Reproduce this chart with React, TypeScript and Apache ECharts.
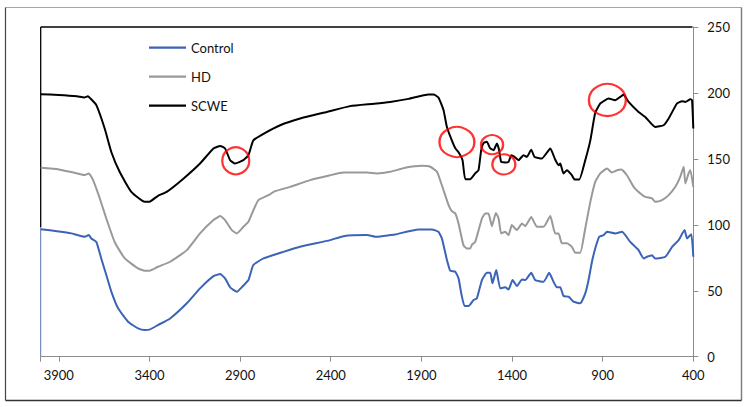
import React, { useEffect, useRef } from "react";
import * as echarts from "echarts";

// Wavenumber (cm-1) / value pairs
const scweWn = [4000, 3900, 3800, 3760, 3740, 3720, 3693, 3647, 3610, 3564, 3500, 3426, 3400, 3353, 3305, 3213, 3121, 3047, 3010, 2983, 2955, 2928, 2882, 2854, 2827, 2771, 2679, 2569, 2422, 2293, 2160, 2072, 1971, 1861, 1833, 1806, 1778, 1759, 1732, 1713, 1695, 1673, 1658, 1631, 1603, 1585, 1570, 1557, 1539, 1520, 1502, 1483, 1471, 1460, 1438, 1419, 1404, 1386, 1364, 1337, 1318, 1294, 1276, 1235, 1189, 1162, 1143, 1134, 1116, 1097, 1070, 1055, 1029, 996, 968, 941, 913, 886, 868, 831, 803, 785, 757, 702, 665, 610, 564, 536, 490, 462, 444, 416, 407, 400];
const scweVal = [199, 198.5, 197.5, 196.5, 197.5, 195, 190.7, 173, 155, 140, 125, 117.4, 117.5, 122, 125, 135, 146.5, 157.9, 159.8, 157.9, 149, 146.5, 149, 152.8, 164, 169, 175.5, 180.6, 185.6, 190, 191.8, 193.2, 195.5, 198.8, 198.8, 196.5, 187, 174, 164, 158, 155, 149, 134.6, 134.6, 139, 141.4, 156.6, 162, 162.9, 157.9, 156.6, 161.7, 156.6, 147.7, 147.3, 147.7, 152.8, 151.5, 149, 152.8, 151.5, 157, 151.5, 150.3, 157.9, 149.5, 145.2, 146.5, 139, 141.4, 137.6, 134.4, 134.4, 149, 164, 185, 192, 194.5, 195.8, 194.5, 197, 198.8, 193.2, 185.6, 181.8, 174.2, 175.5, 180.6, 192, 193.7, 193.2, 195.2, 194.5, 173];

const hdWn = [4000, 3900, 3831, 3757, 3735, 3711, 3674, 3638, 3592, 3536, 3463, 3426, 3400, 3353, 3286, 3194, 3121, 3047, 3010, 2983, 2946, 2918, 2882, 2854, 2827, 2799, 2744, 2707, 2624, 2514, 2403, 2330, 2201, 2146, 2072, 1989, 1897, 1851, 1814, 1787, 1750, 1732, 1713, 1695, 1668, 1649, 1631, 1621, 1603, 1566, 1548, 1530, 1511, 1489, 1474, 1460, 1438, 1419, 1401, 1373, 1345, 1327, 1294, 1263, 1226, 1189, 1162, 1143, 1125, 1097, 1070, 1051, 1024, 996, 968, 941, 913, 876, 849, 821, 797, 766, 729, 692, 665, 628, 610, 573, 536, 499, 472, 453, 444, 426, 416, 400];
const hdVal = [143.2, 142, 140, 137.7, 139, 133.9, 120, 104.8, 87, 74.5, 67, 65.2, 65.2, 68.2, 72, 80.8, 93.5, 103.6, 106.6, 103.6, 96, 93.5, 98.5, 102.3, 111, 118.7, 122.5, 125.5, 128.8, 133.9, 137.6, 139.7, 139.7, 139, 140.2, 143.2, 144.7, 144, 140.2, 130, 115, 110.4, 108.6, 101, 84.6, 82, 82, 85, 87, 104.8, 108.6, 108.6, 99, 109, 104.8, 93.5, 94.7, 92.2, 99.8, 96, 101, 99, 106, 98.5, 98.5, 106.6, 93.5, 93.5, 86, 86, 83.3, 78.8, 78.8, 97.3, 117.4, 132.6, 139, 142.7, 139.7, 141.4, 142, 137.6, 128.8, 123.8, 121.2, 120, 117.4, 118.7, 122.5, 128.8, 136.4, 144, 131.4, 139, 141.4, 128.8];

const controlWn = [4000, 3900, 3831, 3757, 3735, 3721, 3693, 3666, 3638, 3610, 3573, 3518, 3463, 3426, 3400, 3353, 3286, 3194, 3121, 3047, 3010, 2983, 2955, 2918, 2891, 2854, 2827, 2771, 2661, 2569, 2403, 2330, 2201, 2146, 2072, 2045, 1916, 1842, 1806, 1787, 1759, 1741, 1713, 1695, 1680, 1662, 1640, 1612, 1594, 1566, 1539, 1520, 1508, 1487, 1465, 1438, 1419, 1397, 1373, 1345, 1327, 1294, 1272, 1226, 1195, 1171, 1152, 1134, 1116, 1088, 1061, 1024, 996, 978, 959, 941, 919, 895, 876, 831, 793, 748, 702, 674, 655, 628, 610, 554, 517, 481, 448, 435, 411, 400];
const controlVal = [96.7, 95, 93.5, 90.9, 92.2, 89.7, 87, 74.5, 61.9, 49.2, 36.7, 26.5, 21.5, 20.2, 20.5, 24, 29, 40.5, 51.8, 61.1, 62.7, 59.4, 52.6, 49.2, 52.6, 58.1, 69.5, 74.5, 79.5, 83.3, 88.4, 91.4, 92.2, 90.9, 92.2, 92.7, 96.5, 96.5, 94.7, 89.7, 73.3, 65.2, 64.4, 59.4, 48, 38.4, 38.4, 43, 44.2, 58.1, 63.6, 63.6, 55.6, 65.7, 51.8, 52.6, 51, 58.1, 53.6, 58.6, 58.1, 63.6, 58.1, 56.8, 63.6, 56.8, 52.6, 52.6, 46, 45.5, 41.7, 40.5, 48, 58, 72, 82, 90.9, 92.2, 94.7, 93.5, 94.7, 87.1, 80.8, 74.5, 75.8, 77, 74.5, 75.8, 83.3, 88.4, 96, 89.7, 92.9, 75.8];

const seriesNames = ["Control", "HD", "SCWE"];
const xTicks = [3900, 3400, 2900, 2400, 1900, 1400, 900, 400];
const yTicks = [0, 50, 100, 150, 200, 250];

// Red circle annotations: [wavenumber, value]
const circleCenters = [[2924, 148.5], [1704, 162.8], [1510, 160.8], [1445, 145.8], [874, 194.7]];
const circleSizes = [[27, 27], [35, 30], [22, 19], [23, 20], [37, 32]];

const zip = (a: number[], b: number[]) => a.map((x, i) => [x, b[i]]);

export default function App() {
  const ref = useRef<HTMLDivElement>(null);
  useEffect(() => {
    if (!ref.current) return;
    const chart = echarts.init(ref.current, undefined, { renderer: "svg" });
    const font = "Lato";
    const lineSeries = (name: string, data: number[][], color: string) => ({
      name,
      type: "line",
      data,
      symbol: "none",
      smooth: 0.15,
      lineStyle: { color, width: 2 },
      itemStyle: { color },
      z: 3,
    });
    chart.setOption({
      animation: false,
      backgroundColor: "#ffffff",
      textStyle: { fontFamily: font },
      grid: { left: 40.7, right: 56.7, top: 27, bottom: 50.3, outerBoundsMode: "none", containLabel: false },
      legend: {
        data: seriesNames,
        orient: "vertical",
        left: 144,
        top: 35.7,
        padding: 5,
        icon: "rect",
        itemWidth: 37,
        itemHeight: 2.2,
        itemGap: 15,
        textStyle: { fontFamily: font, fontSize: 13, lineHeight: 14, color: "#111" },
      },
      xAxis: {
        type: "value",
        min: 400,
        max: 4000,
        interval: 500,
        inverse: true,
        axisLine: { show: true, onZero: false, lineStyle: { color: "#8c8c8c", width: 1 } },
        axisTick: { show: true, length: 5, lineStyle: { color: "#8c8c8c" } },
        splitLine: { show: false },
        axisLabel: {
          margin: 12,
          fontFamily: font,
          fontSize: 13,
          color: "#111",
          formatter: (v: number) => (xTicks.includes(v) ? String(v) : ""),
        },
      },
      yAxis: {
        type: "value",
        position: "right",
        min: 0,
        max: 250,
        interval: 50,
        axisLine: { show: true, lineStyle: { color: "#8c8c8c", width: 1 } },
        axisTick: { show: true, length: 5, lineStyle: { color: "#8c8c8c" } },
        splitLine: { show: false },
        axisLabel: {
          margin: 14,
          fontFamily: font,
          fontSize: 13,
          color: "#111",
          formatter: (v: number) => (yTicks.includes(v) ? String(v) : ""),
        },
      },
      series: [
        lineSeries("Control", zip(controlWn, controlVal), "#3b63b8"),
        lineSeries("HD", zip(hdWn, hdVal), "#999999"),
        lineSeries("SCWE", zip(scweWn, scweVal), "#000000"),
        {
          name: "annotations",
          type: "scatter",
          data: circleCenters.map((c, i) => ({ value: c, symbolSize: circleSizes[i] })),
          symbol: "circle",
          itemStyle: { color: "rgba(0,0,0,0)", borderColor: "#ff0000", borderWidth: 2.2 },
          silent: true,
          z: 5,
        },
      ],
      graphic: [
        // outer chart border
        { type: "line", shape: { x1: 5.5, y1: 7.5, x2: 741.5, y2: 7.5 }, style: { stroke: "#a6a6a6", lineWidth: 1 } },
        { type: "line", shape: { x1: 741.5, y1: 7.5, x2: 741.5, y2: 400.5 }, style: { stroke: "#7f7f7f", lineWidth: 1.5 } },
        { type: "line", shape: { x1: 5.5, y1: 400.5, x2: 741.5, y2: 400.5 }, style: { stroke: "#333333", lineWidth: 1.5 } },
        { type: "line", shape: { x1: 5.5, y1: 7.5, x2: 5.5, y2: 400.5 }, style: { stroke: "#444444", lineWidth: 1.2 } },
        // plot-area border
        { type: "line", shape: { x1: 40.7, y1: 27, x2: 692.5, y2: 27 }, style: { stroke: "#000000", lineWidth: 1.3 } },
        { type: "line", shape: { x1: 40.7, y1: 27, x2: 40.7, y2: 227 }, style: { stroke: "#000000", lineWidth: 1.3 } },
        { type: "line", shape: { x1: 40.7, y1: 227, x2: 40.7, y2: 356.7 }, style: { stroke: "#5a73b0", lineWidth: 1 } },
      ],
    });
    return () => chart.dispose();
  }, []);
  return <div ref={ref} style={{ position: "fixed", left: 0, top: 0, width: 750, height: 407 }} />;
}
